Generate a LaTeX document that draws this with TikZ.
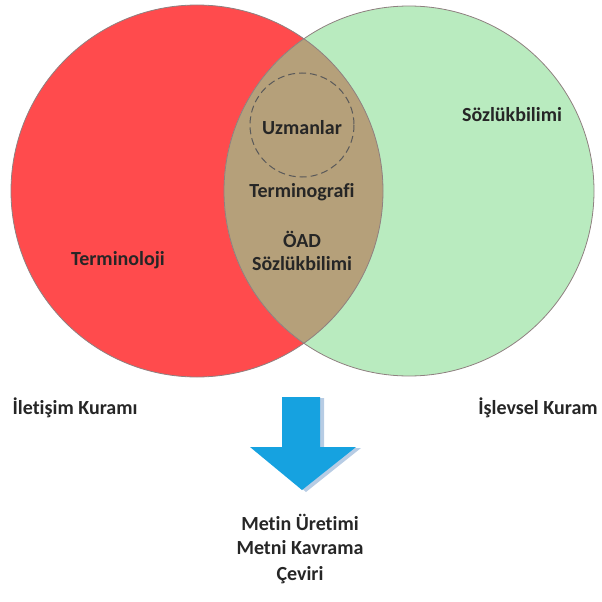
\documentclass[tikz,border=0pt]{standalone}
\usepackage{fontspec}
\setmainfont[Ligatures=NoCommon]{Carlito}
\definecolor{redfill}{HTML}{FF4B4D}
\definecolor{greenfill}{HTML}{B9EBBF}
\definecolor{tanfill}{HTML}{B5A07A}
\definecolor{rimcol}{HTML}{8F8080}
\definecolor{arrowblue}{HTML}{16A2E0}
\definecolor{shadowblue}{HTML}{B7CCE4}
\tikzset{
  lbl/.style={font=\bfseries\fontsize{20}{22}\selectfont, text=black!85, align=center, inner sep=0pt},
  rim/.style={draw=rimcol, line width=0.8pt}
}
\begin{document}
\begin{tikzpicture}[x=1pt,y=-1pt]
\useasboundingbox (0,0) rectangle (602,602);
% circles
\fill[redfill] (197,191) circle (186);
\fill[greenfill] (409,191) circle (185);
\begin{scope}
  \clip (197,191) circle (186);
  \fill[tanfill] (409,191) circle (185);
\end{scope}
\draw[rim] (197,191) circle (186);
\draw[rim] (409,191) circle (185);
\draw[draw=black!65, line width=1pt, dash pattern=on 7pt off 4pt] (302,125) circle (52);
% labels
\node[lbl] (uz) at (302,128) {Uzmanlar};
\node[lbl] (tg) at (302,192) {Terminografi};
\node[lbl] (oad) at (302,251) {ÖAD\\[1pt]Sözlükbilimi};
\node[lbl] (tl) at (118,260) {Terminoloji};
\node[lbl] (sb) at (512,115) {Sözlükbilimi};
\node[lbl] (ik) at (75,408) {İletişim Kuramı};
\node[lbl] (ik2) at (538,408) {İşlevsel Kuram};
% arrow with shadow
\fill[shadowblue] (286,398) -- (324,398) -- (324,448) -- (361,448) -- (306,492) -- (254,448) -- (286,448) -- cycle;
\fill[arrowblue] (282,397) -- (320,397) -- (320,447) -- (356,447) -- (302,490) -- (250,447) -- (282,447) -- cycle;
% results
\node[lbl] (mu) at (300,522) {Metin Üretimi};
\node[lbl] (mk) at (300,548) {Metni Kavrama};
\node[lbl] (cv) at (300,575) {Çeviri};
\end{tikzpicture}
\end{document}
